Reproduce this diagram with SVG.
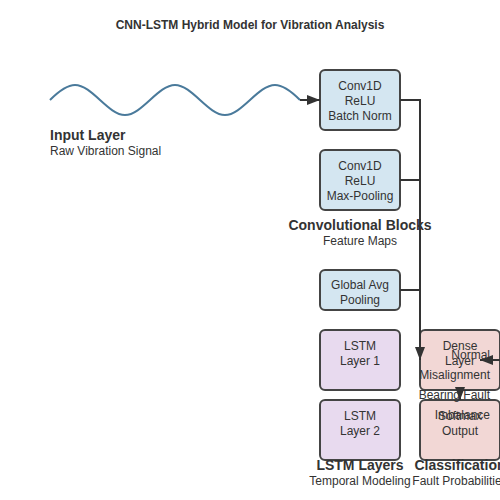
<svg xmlns="http://www.w3.org/2000/svg" width="500" height="500" viewBox="0 0 500 500">
  <defs>
    <style>
      text { font-family: "Liberation Sans", Arial, sans-serif; fill: #333; }
      .title { font-size: 12px; font-weight: bold; text-anchor: middle; }
      .hdr { font-size: 14px; font-weight: bold; }
      .sub { font-size: 12px; }
      .lbl { font-size: 12px; text-anchor: middle; }
      .cls { font-size: 12px; text-anchor: end; }
      .mid { text-anchor: middle; }
      .box { stroke: #444; stroke-width: 2; }
      .cnn { fill: #d4e6f1; }
      .lstm { fill: #e8daef; }
      .out { fill: #f2d7d5; }
      .conn { fill: none; stroke: #333; stroke-width: 2; }
      .wave { fill: none; stroke: #4a7a9b; stroke-width: 2; }
    </style>
    <marker id="arrow" markerUnits="userSpaceOnUse" markerWidth="13" markerHeight="10" viewBox="0 0 13 10" refX="13" refY="5" orient="auto">
      <path d="M0,0 L13,5 L0,10 z" fill="#333"/>
    </marker>
  </defs>

  <rect width="500" height="500" fill="#ffffff"/>

  <text class="title" x="250" y="29">CNN-LSTM Hybrid Model for Vibration Analysis</text>

  <g id="input-layer">
    <path class="wave" d="M50,100 C58,92 67,85 75,85 C92,85 108,115 125,115 C142,115 158,85 175,85 C192,85 208,115 225,115 C242,115 258,85 275,85 C283,85 292,92 300,100"/>
    <text class="hdr" x="50" y="140">Input Layer</text>
    <text class="sub" x="50" y="155">Raw Vibration Signal</text>
  </g>

  <g id="conv1">
    <rect class="box cnn" x="320" y="70" width="80" height="60" rx="5"/>
    <text class="lbl" x="360" y="90">Conv1D</text>
    <text class="lbl" x="360" y="105">ReLU</text>
    <text class="lbl" x="360" y="120">Batch Norm</text>
  </g>

  <g id="conv2">
    <rect class="box cnn" x="320" y="150" width="80" height="60" rx="5"/>
    <text class="lbl" x="360" y="170">Conv1D</text>
    <text class="lbl" x="360" y="185">ReLU</text>
    <text class="lbl" x="360" y="200">Max-Pooling</text>
  </g>

  <g id="conv-label">
    <text class="hdr mid" x="360" y="230">Convolutional Blocks</text>
    <text class="sub mid" x="360" y="245">Feature Maps</text>
  </g>

  <g id="gap">
    <rect class="box cnn" x="320" y="270" width="80" height="40" rx="5"/>
    <text class="lbl" x="360" y="289">Global Avg</text>
    <text class="lbl" x="360" y="304">Pooling</text>
  </g>

  <g id="lstm1">
    <rect class="box lstm" x="320" y="330" width="80" height="60" rx="5"/>
    <text class="lbl" x="360" y="350">LSTM</text>
    <text class="lbl" x="360" y="365">Layer 1</text>
  </g>

  <g id="lstm2">
    <rect class="box lstm" x="320" y="400" width="80" height="60" rx="5"/>
    <text class="lbl" x="360" y="420">LSTM</text>
    <text class="lbl" x="360" y="435">Layer 2</text>
  </g>

  <g id="lstm-label">
    <text class="hdr mid" x="360" y="470">LSTM Layers</text>
    <text class="sub mid" x="360" y="485">Temporal Modeling</text>
  </g>

  <g id="dense">
    <rect class="box out" x="420" y="330" width="80" height="60" rx="5"/>
    <text class="lbl" x="460" y="350">Dense</text>
    <text class="lbl" x="460" y="365">Layer</text>
  </g>

  <g id="softmax">
    <rect class="box out" x="420" y="400" width="80" height="60" rx="5"/>
    <text class="lbl" x="460" y="420">Softmax</text>
    <text class="lbl" x="460" y="435">Output</text>
  </g>

  <g id="class-label">
    <text class="hdr mid" x="460" y="470">Classification</text>
    <text class="sub mid" x="460" y="485">Fault Probabilities</text>
  </g>

  <g id="connectors">
    <path class="conn" d="M300,100 H320" marker-end="url(#arrow)"/>
    <path class="conn" d="M400,100 H420 V360" marker-end="url(#arrow)"/>
    <path class="conn" d="M400,180 H420"/>
    <path class="conn" d="M400,290 H420"/>
    <path class="conn" d="M500,360 H480" marker-end="url(#arrow)"/>
    <path class="conn" d="M460,390 V400" marker-end="url(#arrow)"/>
  </g>

  <g id="class-outputs">
    <text class="cls" x="490" y="359">Normal</text>
    <text class="cls" x="490" y="379">Misalignment</text>
    <text class="cls" x="490" y="399">Bearing Fault</text>
    <text class="cls" x="490" y="419">Imbalance</text>
  </g>
</svg>
